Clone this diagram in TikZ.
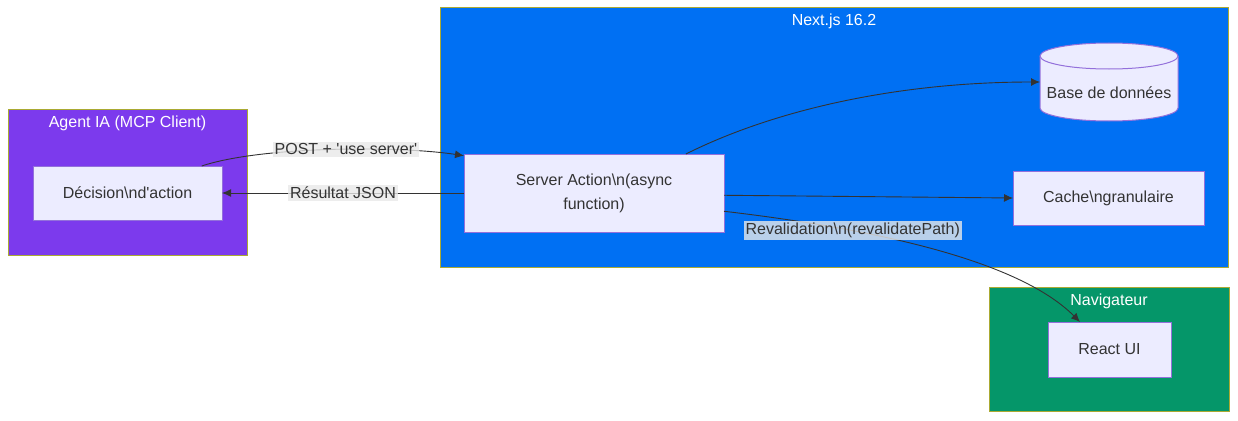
\documentclass[tikz,border=0pt]{standalone}
\usepackage{fontspec}
\setmainfont{Liberation Sans}
\usetikzlibrary{arrows.meta,positioning,calc}
\definecolor{txt}{HTML}{333333}
\definecolor{nodefill}{HTML}{ECECFF}
\definecolor{nodeline}{HTML}{9370DB}
\definecolor{clline}{HTML}{AAAA33}
\definecolor{agentbg}{HTML}{7C3AED}
\definecolor{nextbg}{HTML}{0070F3}
\definecolor{navbg}{HTML}{059669}
\definecolor{lblbg}{HTML}{E8E8E8}

\begin{document}
\begin{tikzpicture}[x=1pt,y=1pt,
font=\fontsize{16}{24}\selectfont,text=txt,
box/.style={draw=nodeline,fill=nodefill,line width=1pt,outer sep=0pt,align=center},
cluster/.style={draw=clline,line width=1pt,outer sep=0pt},
cltitle/.style={text=white,inner sep=0pt},
lbl/.style={fill=lblbg,fill opacity=.8,text opacity=1,inner sep=2pt},
arr/.style={-{Latex[length=9pt,width=8pt]},draw=txt,line width=.9pt}]
\useasboundingbox (0,0) rectangle (1238,-420);
% groups
\node[cluster,fill=agentbg,minimum width=239,minimum height=146] (agent) at (127.5,-182) {};
\node[cluster,fill=nextbg,minimum width=788,minimum height=259] (next) at (834,-137.5) {};
\node[cluster,fill=navbg,minimum width=240,minimum height=124] (nav) at (1109,-349) {};
\node[cltitle] (tagent) at ([yshift=-14]agent.north) {Agent IA (MCP Client)};
\node[cltitle] (tnext) at ([yshift=-13]next.north) {Next.js 16.2};
\node[cltitle] (tnav) at ([yshift=-14]nav.north) {Navigateur};
% nodes
\node[box,minimum width=189,minimum height=54] (dec) at (127.5,-193) {Décision\textbackslash nd\textquotesingle action};
\node[box,minimum width=260,minimum height=78] (act) at (594,-193) {Server Action\textbackslash n(async\\function)};
\node[minimum width=138,minimum height=78,outer sep=0pt] (db) at (1109,-82) {};
\draw[box] ([yshift=-13]db.north west) -- ([yshift=13]db.south west)
  arc[start angle=180,end angle=360,x radius=69,y radius=13] -- ([yshift=-13]db.north east)
  arc[start angle=0,end angle=180,x radius=69,y radius=13] -- cycle;
\draw[draw=nodeline,line width=1pt] ([yshift=-13]db.north west) arc[start angle=180,end angle=360,x radius=69,y radius=13];
\node (dbtext) at ([yshift=-11]db.center) {Base de données};
\node[box,minimum width=191,minimum height=54] (cache) at (1108.5,-198) {Cache\textbackslash ngranulaire};
\node[box,minimum width=123,minimum height=55] (ui) at (1109.5,-349.5) {React UI};
% edges
\draw[arr] (dec.20) .. controls +(60,20) and +(-65,10) .. node[lbl,pos=.55]{POST + \textquotesingle use server\textquotesingle} (act.164);
\draw[arr] (act.west) -- node[lbl]{Résultat JSON} (dec.east);
\draw[arr] (act.23) .. controls +(90,45) and +(-140,0) .. (db.west);
\draw[arr] (act.-1) -- (cache.west);
\draw[arr] (act.-8) .. controls +(136,-16) and +(-65,65) .. node[lbl,pos=.31]{Revalidation\textbackslash n(revalidatePath)} (ui.137);
\end{tikzpicture}
\end{document}
